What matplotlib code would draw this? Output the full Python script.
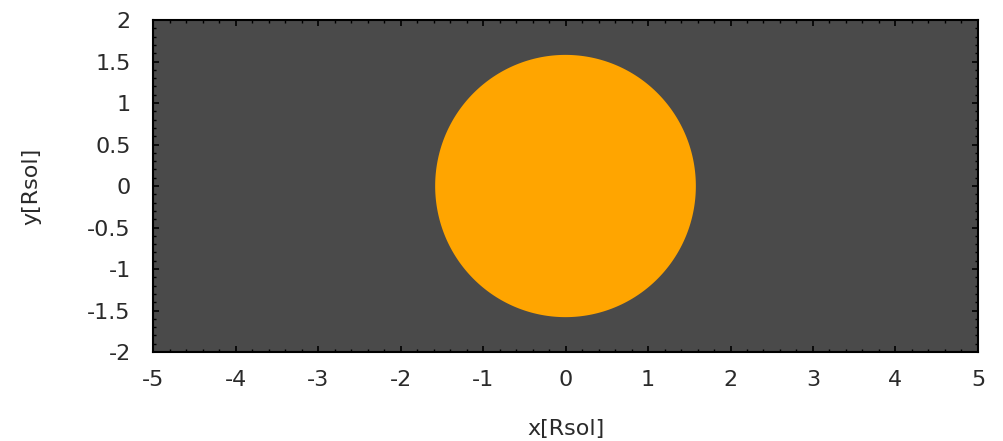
import numpy as np
import matplotlib
matplotlib.use("Agg")
import matplotlib.pyplot as plt
from matplotlib.ticker import MultipleLocator, FuncFormatter

# Star disk seen face-on, in solar radii
star_center = [0.0, 0.0]
star_radius = 1.58
x_range = [-5, 5]
y_range = [-2, 2]
x_ticks = [-5, -4, -3, -2, -1, 0, 1, 2, 3, 4, 5]
y_ticks = [-2, -1.5, -1, -0.5, 0, 0.5, 1, 1.5, 2]

plt.rcParams['axes.unicode_minus'] = False
plt.rcParams['font.family'] = ['DejaVu Sans']

fig = plt.figure(figsize=(10.04, 4.41), dpi=100)
ax = fig.add_axes([0.1524, 0.2018, 0.8217, 0.7528])
ax.set_facecolor('#4a4a4a')

theta = np.linspace(0, 2 * np.pi, 721)
ax.fill(star_center[0] + star_radius * np.cos(theta),
        star_center[1] + star_radius * np.sin(theta),
        color='#ffa500', lw=0)

ax.set_xlim(x_range)
ax.set_ylim(y_range)
ax.set_xticks(x_ticks)
ax.set_yticks(y_ticks)
ax.xaxis.set_minor_locator(MultipleLocator(0.2))
ax.yaxis.set_minor_locator(MultipleLocator(0.1))

fmt = FuncFormatter(lambda v, p: ('%g' % v))
ax.xaxis.set_major_formatter(fmt)
ax.yaxis.set_major_formatter(fmt)

ax.tick_params(which='both', direction='in', top=True, right=True, color='black')
ax.tick_params(which='major', length=4.5, width=1.2)
ax.tick_params(which='minor', length=2.2, width=1.0)
ax.tick_params(axis='x', which='major', pad=13, labelsize=16, labelcolor='#2a2a2a')
ax.tick_params(axis='y', which='major', pad=16, labelsize=16, labelcolor='#2a2a2a')
for s in ax.spines.values():
    s.set_linewidth(1.5)
    s.set_color('black')

ax.set_xlabel('x[Rsol]', fontsize=16, color='#2a2a2a', labelpad=21)
ax.set_ylabel('y[Rsol]', fontsize=16, color='#2a2a2a', labelpad=33)

fig.savefig('out.png', dpi=100, facecolor='white')
